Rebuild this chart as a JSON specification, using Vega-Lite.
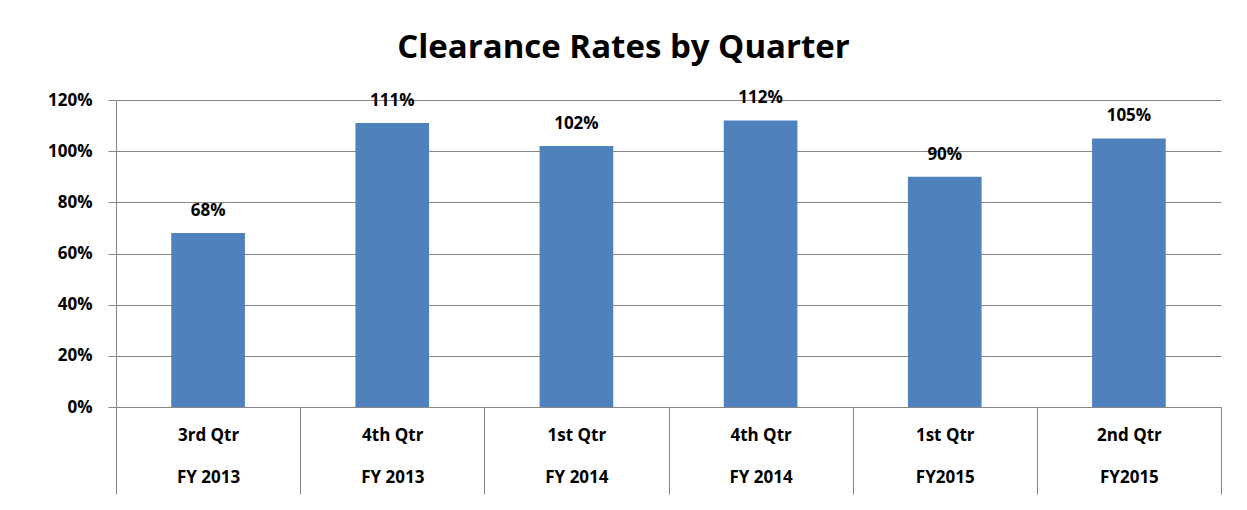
{
  "$schema": "https://vega.github.io/schema/vega-lite/v6.json",
  "width": 1105,
  "height": 307,
  "autosize": {"type": "none"},
  "padding": {"left": 116, "top": 100, "right": 26, "bottom": 103},
  "background": "white",
  "title": {
    "text": "Clearance Rates by Quarter",
    "font": "Open Sans",
    "fontSize": 33,
    "fontWeight": "bold",
    "color": "#000000",
    "anchor": "middle",
    "frame": "group",
    "dx": -45,
    "offset": 24
  },
  "data": {
    "values": [
      {"period": "3rd Qtr|FY 2013", "rate": 0.68},
      {"period": "4th Qtr|FY 2013", "rate": 1.11},
      {"period": "1st Qtr|FY 2014", "rate": 1.02},
      {"period": "4th Qtr|FY 2014", "rate": 1.12},
      {"period": "1st Qtr|FY2015", "rate": 0.90},
      {"period": "2nd Qtr|FY2015", "rate": 1.05}
    ]
  },
  "encoding": {
    "x": {
      "field": "period",
      "type": "nominal",
      "sort": null,
      "scale": {"paddingInner": 0, "paddingOuter": 0},
      "axis": {
        "title": null,
        "labelAngle": 0,
        "labelExpr": "split(datum.label, '|')",
        "labelFont": "Open Sans",
        "labelFontSize": 17,
        "labelFontWeight": "bold",
        "labelColor": "#000000",
        "labelLineHeight": 42,
        "labelBaseline": "top",
        "labelPadding": -67,
        "tickBand": "extent",
        "tickSize": 87,
        "tickColor": "#868686",
        "domainColor": "#868686",
        "grid": false
      }
    },
    "y": {
      "field": "rate",
      "type": "quantitative",
      "scale": {"domain": [0, 1.2]},
      "axis": {
        "title": null,
        "format": ".0%",
        "values": [0, 0.2, 0.4, 0.6, 0.8, 1.0, 1.2],
        "labelFont": "Open Sans",
        "labelFontSize": 17,
        "labelFontWeight": "bold",
        "labelColor": "#000000",
        "labelPadding": 16,
        "tickSize": 8,
        "tickColor": "#868686",
        "domainColor": "#868686",
        "gridColor": "#868686",
        "grid": true
      }
    }
  },
  "layer": [
    {"mark": {"type": "bar", "color": "#4F81BD", "width": {"band": 0.4}}},
    {
      "mark": {
        "type": "text",
        "baseline": "bottom",
        "dy": -13,
        "font": "Open Sans",
        "fontSize": 17,
        "fontWeight": "bold",
        "color": "#000000"
      },
      "encoding": {
        "text": {"field": "rate", "type": "quantitative", "format": ".0%"}
      }
    }
  ],
  "config": {"view": {"stroke": null}}
}
